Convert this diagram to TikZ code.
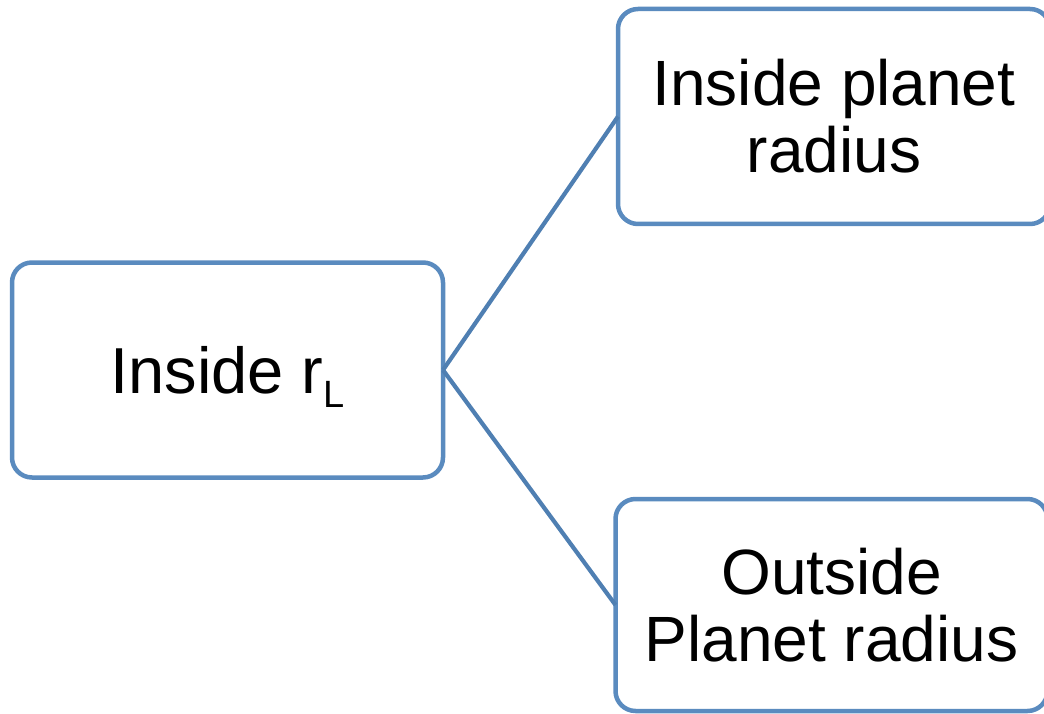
\documentclass[tikz,border=0pt]{standalone}
\usepackage{fontspec}
\setmainfont{Liberation Sans}
\definecolor{boxline}{RGB}{90,139,191}
\definecolor{linkline}{RGB}{79,127,178}
\begin{document}
\begin{tikzpicture}[x=1pt,y=-1pt,
  box/.style={draw=boxline, line width=4.5pt, rounded corners=20pt, fill=white,
    inner sep=0pt, outer sep=0pt, align=center,
    font=\fontsize{64}{67}\selectfont},
  link/.style={draw=linkline, line width=4.2pt}]
\useasboundingbox (0,0) rectangle (1044,714);
\clip (0,0) rectangle (1044,714);
% left box
\node[box, minimum width=431pt, minimum height=215pt] (core) at (227.5,370)
  {\fontsize{65}{67}\selectfont Inside r\raisebox{-14pt}[0pt][0pt]{\fontsize{38}{38}\selectfont L}};
% right boxes
\node[box, minimum width=432pt, minimum height=215pt] (inner) at (834,116.5)
  {Inside planet\\radius};
\node[box, minimum width=432pt, minimum height=212pt] (outer) at (831.5,605)
  {Outside\\Planet radius};
% connectors
\draw[link] (core.east) -- (inner.west);
\draw[link] (core.east) -- (outer.west);
\end{tikzpicture}
\end{document}
